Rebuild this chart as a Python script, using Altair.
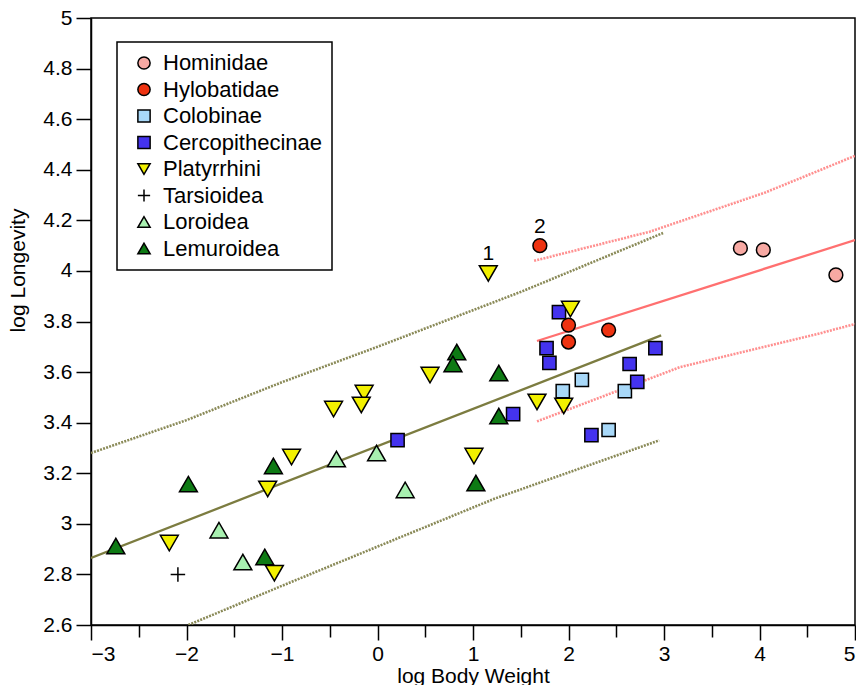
import altair as alt
import pandas as pd

# ---- categories & styles ----
groups = ["Hominidae", "Hylobatidae", "Colobinae", "Cercopithecinae",
          "Platyrrhini", "Tarsioidea", "Loroidea", "Lemuroidea"]
fills = ["#F7A9A3", "#EE3311", "#A8D8F8", "#4433EE",
         "#F2F000", "#000000", "#A8F0B0", "#0E7A14"]
outlines = ["#000000"] * 8
shapes = ["circle", "circle", "square", "square",
          "triangle-down", "M-1,0L1,0M0,-1L0,1", "triangle-up", "triangle-up"]
sizes = [190, 190, 175, 175, 320, 210, 320, 320]

# ---- point data (log body weight, log longevity) ----
hominidae_x = [3.80, 4.04, 4.80]
hominidae_y = [4.09, 4.083, 3.984]
hylobatidae_x = [1.70, 2.00, 2.00, 2.42]
hylobatidae_y = [4.10, 3.786, 3.719, 3.766]
colobinae_x = [2.14, 1.94, 2.59, 2.42]
colobinae_y = [3.569, 3.525, 3.525, 3.371]
cercopithecinae_x = [1.90, 1.77, 1.80, 2.64, 2.72, 2.91, 1.42, 2.24, 0.21]
cercopithecinae_y = [3.837, 3.695, 3.636, 3.632, 3.561, 3.695, 3.434, 3.351, 3.331]
platyrrhini_x = [1.16, 2.02, 1.67, 1.95, 1.01, 0.55, -0.14, -0.17, -0.46, -0.90, -1.15, -2.18, -1.08]
platyrrhini_y = [3.99, 3.849, 3.482, 3.466, 3.268, 3.588, 3.517, 3.470, 3.454, 3.264, 3.138, 2.924, 2.805]
tarsioidea_x = [-2.09]
tarsioidea_y = [2.80]
loroidea_x = [-1.66, -1.41, -0.43, -0.01, 0.29]
loroidea_y = [2.975, 2.849, 3.256, 3.28, 3.134]
lemuroidea_x = [-2.74, -1.98, -1.09, -1.18, 0.83, 0.79, 1.27, 1.27, 1.03]
lemuroidea_y = [2.912, 3.157, 3.229, 2.869, 3.679, 3.632, 3.596, 3.426, 3.161]

# ---- annotation labels ----
label_text = ["1", "2"]
label_x = [1.16, 1.70]
label_y = [3.99, 4.10]

# ---- fitted lines ----
all_fit_x = [-3.0, 2.97]
all_fit_y = [2.865, 3.745]
all_upper_x = [-3.0, -2.0, -1.0, 0.0, 1.52, 2.99]
all_upper_y = [3.28, 3.41, 3.56, 3.70, 3.92, 4.15]
all_lower_x = [-1.98, -1.0, 0.0, 1.23, 2.95]
all_lower_y = [2.60, 2.755, 2.91, 3.10, 3.33]

hom_fit_x = [1.67, 5.0]
hom_fit_y = [3.723, 4.122]
hom_upper_x = [1.64, 2.85, 4.06, 5.0]
hom_upper_y = [4.04, 4.155, 4.31, 4.455]
hom_lower_x = [1.67, 3.17, 4.6, 5.0]
hom_lower_y = [3.405, 3.62, 3.75, 3.79]

x_ticks = [-3, -2.5, -2, -1.5, -1, -0.5, 0, 0.5, 1, 1.5, 2, 2.5, 3, 3.5, 4, 4.5, 5]
y_ticks = [2.6, 2.8, 3.0, 3.2, 3.4, 3.6, 3.8, 4.0, 4.2, 4.4, 4.6, 4.8, 5.0]

# ---- build tables ----
series = {
    "Hominidae": (hominidae_x, hominidae_y),
    "Hylobatidae": (hylobatidae_x, hylobatidae_y),
    "Colobinae": (colobinae_x, colobinae_y),
    "Cercopithecinae": (cercopithecinae_x, cercopithecinae_y),
    "Platyrrhini": (platyrrhini_x, platyrrhini_y),
    "Tarsioidea": (tarsioidea_x, tarsioidea_y),
    "Loroidea": (loroidea_x, loroidea_y),
    "Lemuroidea": (lemuroidea_x, lemuroidea_y),
}
size_of = dict(zip(groups, sizes))
rows = []
for g, (xs, ys) in series.items():
    for xv, yv in zip(xs, ys):
        rows.append({"group": g, "x": xv, "y": yv, "sz": size_of[g]})
points = pd.DataFrame(rows)

labels = pd.DataFrame({"t": label_text, "x": label_x, "y": label_y})


def line_df(xs, ys):
    return pd.DataFrame({"x": xs, "y": ys})


FONT = "Liberation Sans"

xscale = alt.Scale(domain=[-3, 5], nice=False, zero=False)
yscale = alt.Scale(domain=[2.6, 5], nice=False, zero=False)

xaxis = alt.Axis(
    values=x_ticks, format=".1~f",
    labelExpr="datum.value % 1 === 0 ? datum.label : ''",
    tickSize={"condition": {"test": "datum.value % 1 === 0", "value": 15}, "value": 12},
    labelPadding=3, title="log Body Weight",
    titleY=57, titleBaseline="alphabetic",
)
yaxis = alt.Axis(
    values=y_ticks, format=".1~f", tickSize=15, labelPadding=4,
    title="log Longevity", titleAngle=270, titleX=-67, titleY=252,
    titleAlign="center", titleBaseline="alphabetic",
)

X = alt.X("x:Q", scale=xscale, axis=xaxis)
Y = alt.Y("y:Q", scale=yscale, axis=yaxis)


def line_layer(xs, ys, color, dash=None, width=2.0):
    kw = dict(color=color, strokeWidth=width, clip=True)
    if dash:
        kw["strokeDash"] = dash
    return alt.Chart(line_df(xs, ys)).mark_line(**kw).encode(
        x=alt.X("x:Q", scale=xscale, axis=xaxis),
        y=alt.Y("y:Q", scale=yscale, axis=yaxis),
    )


olive = "#7C7C40"
olive_dot = "#8A8A58"
pink = "#FF7070"
pink_dot = "#FF9090"
DOT = [2, 1.2]

lines = [
    line_layer(all_upper_x, all_upper_y, olive_dot, DOT, 2.6),
    line_layer(all_lower_x, all_lower_y, olive_dot, DOT, 2.6),
    line_layer(all_fit_x, all_fit_y, olive, None, 2.3),
    line_layer(hom_upper_x, hom_upper_y, pink_dot, DOT, 2.6),
    line_layer(hom_lower_x, hom_lower_y, pink_dot, DOT, 2.6),
    line_layer(hom_fit_x, hom_fit_y, pink, None, 2.3),
]

legend = alt.Legend(
    title=None, orient="none", legendX=26, legendY=24,
    strokeColor="black", fillColor="white", padding=10,
    symbolOffset=6, labelOffset=8, rowPadding=4.5,
    labelFont=FONT, labelFontSize=22, labelColor="black",
    symbolSize=150, symbolStrokeWidth=1.5,
)

pts = alt.Chart(points).mark_point(
    filled=True, strokeWidth=1.5, opacity=1, fillOpacity=1
).encode(
    x=X, y=Y,
    fill=alt.Fill("group:N", scale=alt.Scale(domain=groups, range=fills), legend=legend, sort=groups),
    shape=alt.Shape("group:N", scale=alt.Scale(domain=groups, range=shapes), legend=legend, sort=groups),
    stroke=alt.Stroke("group:N", scale=alt.Scale(domain=groups, range=outlines), legend=legend, sort=groups),
    size=alt.Size("sz:Q", scale=None),
)

txt = alt.Chart(labels).mark_text(
    font=FONT, fontSize=21, color="black", dy=-19, baseline="middle", align="center"
).encode(x=X, y=Y, text="t:N")

chart = alt.layer(*lines, pts, txt).properties(
    width=764, height=607,
    autosize=alt.AutoSizeParams(type="none"),
    padding={"left": 83, "top": 10, "right": 1, "bottom": 60},
).configure_view(
    stroke="black", strokeWidth=1.5
).configure_axis(
    grid=False, domainColor="black", domainWidth=1.5,
    tickColor="black", tickWidth=1.5,
    labelFont=FONT, labelFontSize=21, labelColor="black",
    titleFont=FONT, titleFontSize=21, titleFontWeight="normal", titleColor="black",
).configure_legend(
    strokeWidth=1.5
)

chart.save("out.html", embed_options={"renderer": "svg", "actions": False})
